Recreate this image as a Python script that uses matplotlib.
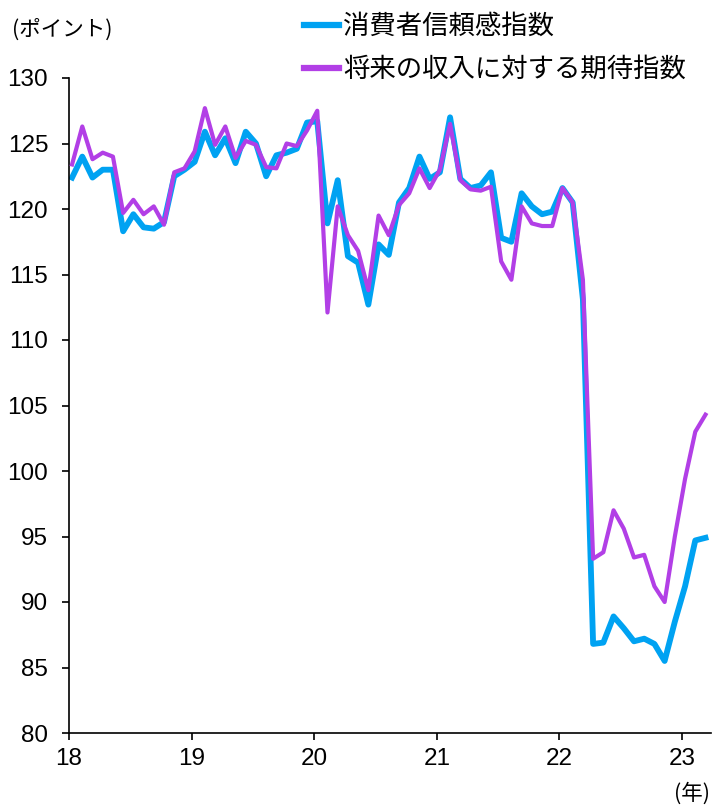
import matplotlib
matplotlib.use("Agg")
import matplotlib.pyplot as plt
import numpy as np

plt.rcParams['font.family'] = ['Liberation Sans', 'Noto Sans CJK JP', 'DejaVu Sans']

start_year = 18
consumer_confidence = [
    122.4, 124.0, 122.4, 123.0, 123.0, 118.3, 119.6, 118.6, 118.5, 119.0, 122.5, 123.0,
    123.6, 125.9, 124.1, 125.4, 123.5, 125.9, 125.0, 122.5, 124.1, 124.3, 124.6, 126.6,
    126.7, 118.9, 122.2, 116.4, 115.9, 112.7, 117.3, 116.5, 120.5, 121.6, 124.0, 122.3,
    122.8, 127.0, 122.3, 121.6, 121.8, 122.8, 117.8, 117.5, 121.2, 120.2, 119.6, 119.8,
    121.6, 120.5, 113.1, 86.8, 86.9, 88.9, 88.0, 87.0, 87.2, 86.8, 85.5, 88.5,
    91.2, 94.7, 94.9,
]
income_expectations = [
    123.4, 126.3, 123.8, 124.3, 124.0, 119.7, 120.7, 119.6, 120.2, 118.8, 122.8, 123.1,
    124.4, 127.7, 124.9, 126.3, 123.9, 125.2, 124.9, 123.2, 123.1, 125.0, 124.8, 126.0,
    127.5, 112.1, 120.2, 118.0, 116.8, 113.8, 119.5, 118.0, 120.3, 121.2, 123.1, 121.6,
    123.0, 126.5, 122.2, 121.5, 121.4, 121.7, 116.0, 114.6, 120.2, 118.9, 118.7, 118.7,
    121.6, 120.5, 114.6, 93.3, 93.8, 97.0, 95.6, 93.4, 93.6, 91.2, 90.0, 95.0,
    99.4, 103.0, 104.3,
]
series_labels = ['消費者信頼感指数', '将来の収入に対する期待指数']
year_ticks = [18, 19, 20, 21, 22, 23]
y_ticks = [80, 85, 90, 95, 100, 105, 110, 115, 120, 125, 130]

x = start_year + (np.arange(len(consumer_confidence)) + 0.3) / 12.0

fig = plt.figure(figsize=(7.15, 8.07), dpi=100)
ax = fig.add_axes([69/715, 74/807, (711-69)/715, (733-78)/807])

ax.plot(x, consumer_confidence, color='#00A2F2', lw=4.2, solid_joinstyle='round',
        label=series_labels[0], zorder=2)
ax.plot(x, income_expectations, color='#B23FE6', lw=3.0, solid_joinstyle='round',
        label=series_labels[1], zorder=3)

ax.set_xlim(18, 18 + (711-69)/122.6)
ax.set_ylim(80, 130)
ax.set_xticks(year_ticks)
ax.set_xticklabels([str(t) for t in year_ticks])
ax.set_yticks(y_ticks)
ax.tick_params(axis='both', direction='out', length=5, width=1.2, labelsize=17.5, colors='black')
ax.tick_params(axis='x', pad=6)
ax.tick_params(axis='y', pad=10)
for s in ['top', 'right']:
    ax.spines[s].set_visible(False)
for s in ['left', 'bottom']:
    ax.spines[s].set_linewidth(1.2)

fig.text(12/715, 1 - 30/807, '(ポイント)', fontsize=15.5, ha='left', va='center',
         family=['Noto Sans CJK JP', 'DejaVu Sans'])
fig.text(710/715, 1 - 794/807, '(年)', fontsize=15.5, ha='right', va='center',
         family=['Noto Sans CJK JP', 'DejaVu Sans'])

leg = fig.legend(loc='upper left', bbox_to_anchor=(280/715, 1 + 11/807), frameon=False,
                 handlelength=1.35, handletextpad=0.15, labelspacing=0.62,
                 prop={'family': ['Noto Sans CJK JP', 'DejaVu Sans'], 'size': 19})
for line in leg.get_lines():
    line.set_linewidth(4.5)

fig.savefig('out.png', dpi=100)
